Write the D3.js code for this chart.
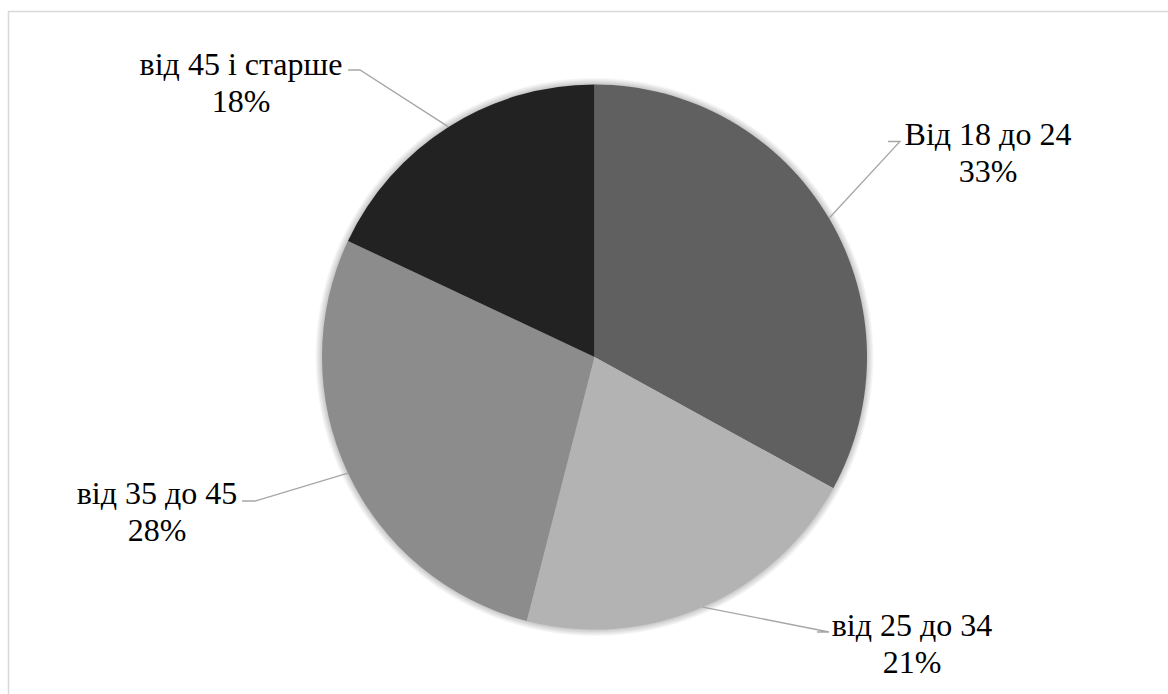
<!DOCTYPE html>
<html>
<head>
<meta charset="utf-8">
<script src="https://cdn.jsdelivr.net/npm/d3@7"></script>
<style>
  html, body { margin: 0; padding: 0; background: #fff; }
  #chart { position: relative; width: 1168px; height: 694px; overflow: hidden; }
  svg { display: block; position: absolute; left: 0; top: 0; }
  .lbl { position: absolute; white-space: nowrap; text-align: center; color: #000;
         font-family: "Liberation Serif", "Times New Roman", Tinos; font-size: 32px; line-height: 36.5px; }
</style>
</head>
<body>
<div id="chart"></div>
<script>
// Age groups and their shares (%)
const categories = ["Від 18 до 24", "від 25 до 34", "від 35 до 45", "від 45 і старше"];
const shares = [33, 21, 28, 18];
const sliceColors = ["#606060", "#b3b3b3", "#8c8c8c", "#222222"];

const W = 1168, H = 694;
const cx = 594.5, cy = 357, R = 272.5;

const root = d3.select("#chart");
const svg = root.append("svg").attr("width", W).attr("height", H);

// soft halo around the pie, drawn as a radial gradient ring
const halo = R + 7;
const grad = svg.append("defs").append("radialGradient")
  .attr("id", "halo").attr("gradientUnits", "userSpaceOnUse")
  .attr("cx", cx).attr("cy", cy).attr("r", halo);
grad.append("stop").attr("offset", R / halo).attr("stop-color", "#000").attr("stop-opacity", 0.22);
grad.append("stop").attr("offset", 1).attr("stop-color", "#000").attr("stop-opacity", 0);

// chart frame
svg.append("rect")
  .attr("x", 8.5).attr("y", 11.5)
  .attr("width", W + 10).attr("height", H + 10)
  .attr("fill", "none").attr("stroke", "#d9d9d9").attr("stroke-width", 1.5);

svg.append("circle").attr("cx", cx).attr("cy", cy).attr("r", halo)
  .attr("fill", "url(#halo)");

const pie = d3.pie().sort(null).value(d => d)(shares);
const arc = d3.arc().innerRadius(0).outerRadius(R);

svg.append("g").attr("transform", `translate(${cx},${cy})`)
  .selectAll("path").data(pie).join("path")
  .attr("d", arc)
  .attr("fill", (d, i) => sliceColors[i]);

// label placement: text centre x, first-line baseline, leader-line points
const labelPos = [
  { x: 988, y: 142, line: [[900, 141.5], [888, 141.5]] },
  { x: 912, y: 633, line: [[829, 632], [817, 632]] },
  { x: 157, y: 501, line: [[255, 501], [242, 501]] },
  { x: 241, y: 72,  line: [[360, 70], [348, 70]] }
];

pie.forEach((d, i) => {
  const p = labelPos[i];
  const mid = (d.startAngle + d.endAngle) / 2;
  const edge = [cx + Math.sin(mid) * R, cy - Math.cos(mid) * R];
  svg.append("path")
    .attr("d", d3.line()([edge, ...p.line]))
    .attr("fill", "none").attr("stroke", "#a6a6a6").attr("stroke-width", 1.3);

  // two-line HTML label centred on p.x; baseline of first line near p.y
  const box = root.append("div").attr("class", "lbl")
    .style("left", (p.x - 150) + "px")
    .style("width", "300px")
    .style("top", (p.y - 26) + "px");
  box.append("div").text(categories[i]);
  box.append("div").text(shares[i] + "%");
});
</script>
</body>
</html>
